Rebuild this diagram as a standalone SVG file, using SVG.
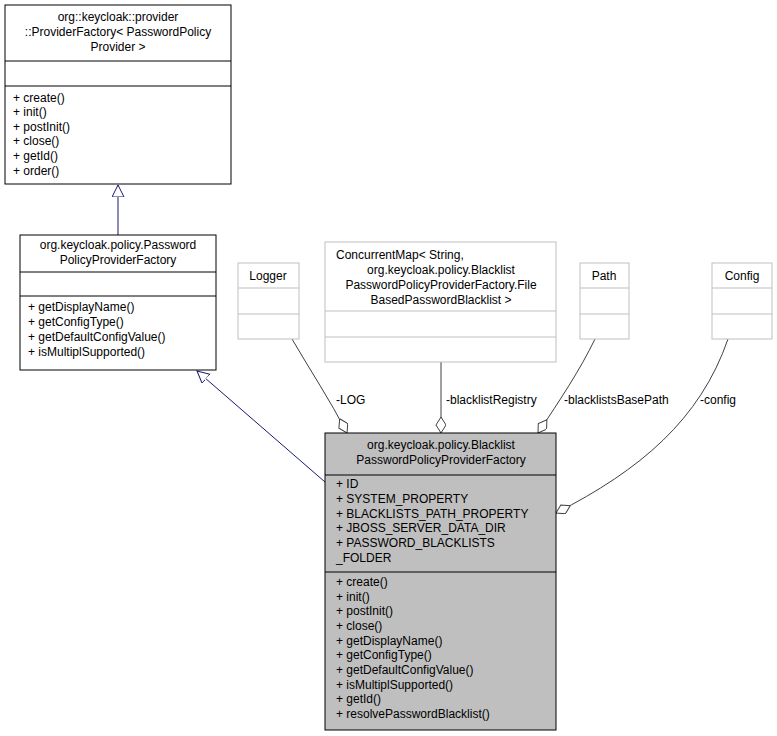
<svg xmlns="http://www.w3.org/2000/svg" width="777" height="736" viewBox="0 0 777 736">
<style>
text{font-family:"Liberation Sans",Arial,sans-serif;font-size:12px;fill:#000}
.c{text-anchor:middle}
.b{fill:#fff;stroke:#000;stroke-width:1}
.g{fill:#fff;stroke:#bfbfbf;stroke-width:1}
.m{fill:#bfbfbf;stroke:#000;stroke-width:1}
.inh{fill:none;stroke:#191970;stroke-width:1}
.agg{fill:none;stroke:#404040;stroke-width:1}
</style>
<defs>
<marker id="tri" markerWidth="14" markerHeight="14" refX="12" refY="6" orient="auto" markerUnits="userSpaceOnUse"><path d="M0,0 L12,6 L0,12 Z" fill="#fff" stroke="#191970"/></marker>
<marker id="dia" markerWidth="18" markerHeight="12" refX="16" refY="5" orient="auto" markerUnits="userSpaceOnUse"><path d="M0,5 L8,0 L16,5 L8,10 Z" fill="#fff" stroke="#404040"/></marker>
</defs>
<g id="connectors">
<path class="inh" d="M118,235 L118,185" marker-end="url(#tri)"/>
<path class="inh" d="M325,482 L197,371" marker-end="url(#tri)"/>
<path class="agg" d="M292,339 C310,370 330,400 347,433" marker-end="url(#dia)"/>
<text x="336" y="404">-LOG</text>
<path class="agg" d="M441,362 L441,433" marker-end="url(#dia)"/>
<text x="446" y="404">-blacklistRegistry</text>
<path class="agg" d="M595,339 C580,370 560,400 538,433" marker-end="url(#dia)"/>
<text x="564" y="404">-blacklistsBasePath</text>
<path class="agg" d="M728,339 C700,420 640,470 556,513" marker-end="url(#dia)"/>
<text x="700" y="404">-config</text>
</g>
<g id="ProviderFactory">
<rect class="b" x="5" y="5" width="226" height="179"/>
<line x1="5" y1="61" x2="231" y2="61" stroke="#000"/>
<line x1="5" y1="86" x2="231" y2="86" stroke="#000"/>
<text class="c" x="118" y="21">org::keycloak::provider</text>
<text class="c" x="118" y="36">::ProviderFactory&lt; PasswordPolicy</text>
<text class="c" x="118" y="51">Provider &gt;</text>
<text x="13" y="102">+ create()</text>
<text x="13" y="116">+ init()</text>
<text x="13" y="131">+ postInit()</text>
<text x="13" y="145">+ close()</text>
<text x="13" y="160">+ getId()</text>
<text x="13" y="175">+ order()</text>
</g>
<g id="PasswordPolicyProviderFactory">
<rect class="b" x="20" y="235" width="196" height="135"/>
<line x1="20" y1="272" x2="216" y2="272" stroke="#000"/>
<line x1="20" y1="296" x2="216" y2="296" stroke="#000"/>
<text class="c" x="118" y="249">org.keycloak.policy.Password</text>
<text class="c" x="118" y="264">PolicyProviderFactory</text>
<text x="28" y="311">+ getDisplayName()</text>
<text x="28" y="326">+ getConfigType()</text>
<text x="28" y="341">+ getDefaultConfigValue()</text>
<text x="28" y="356">+ isMultiplSupported()</text>
</g>
<g id="Logger">
<rect class="g" x="238" y="263" width="61" height="76"/>
<line x1="238" y1="288" x2="299" y2="288" stroke="#bfbfbf"/>
<line x1="238" y1="314" x2="299" y2="314" stroke="#bfbfbf"/>
<text class="c" x="268" y="280">Logger</text>
</g>
<g id="ConcurrentMap">
<rect class="g" x="325" y="242" width="231" height="120"/>
<line x1="325" y1="311" x2="556" y2="311" stroke="#bfbfbf"/>
<line x1="325" y1="337" x2="556" y2="337" stroke="#bfbfbf"/>
<text x="336" y="259">ConcurrentMap&lt; String,</text>
<text class="c" x="441" y="274">org.keycloak.policy.Blacklist</text>
<text class="c" x="441" y="289">PasswordPolicyProviderFactory.File</text>
<text class="c" x="441" y="304">BasedPasswordBlacklist &gt;</text>
</g>
<g id="Path">
<rect class="g" x="580" y="263" width="49" height="76"/>
<line x1="580" y1="288" x2="629" y2="288" stroke="#bfbfbf"/>
<line x1="580" y1="314" x2="629" y2="314" stroke="#bfbfbf"/>
<text class="c" x="604" y="280">Path</text>
</g>
<g id="Config">
<rect class="g" x="712" y="263" width="60" height="76"/>
<line x1="712" y1="288" x2="772" y2="288" stroke="#bfbfbf"/>
<line x1="712" y1="314" x2="772" y2="314" stroke="#bfbfbf"/>
<text class="c" x="742" y="280">Config</text>
</g>
<g id="BlacklistPasswordPolicyProviderFactory">
<rect class="m" x="325" y="433" width="231" height="297"/>
<line x1="325" y1="475" x2="556" y2="475" stroke="#000"/>
<line x1="325" y1="572" x2="556" y2="572" stroke="#000"/>
<text class="c" x="441" y="449">org.keycloak.policy.Blacklist</text>
<text class="c" x="441" y="464">PasswordPolicyProviderFactory</text>
<text x="336" y="488">+ ID</text>
<text x="336" y="503">+ SYSTEM_PROPERTY</text>
<text x="336" y="518">+ BLACKLISTS_PATH_PROPERTY</text>
<text x="336" y="532">+ JBOSS_SERVER_DATA_DIR</text>
<text x="336" y="547">+ PASSWORD_BLACKLISTS</text>
<text x="336" y="562">_FOLDER</text>
<text x="336" y="586">+ create()</text>
<text x="336" y="601">+ init()</text>
<text x="336" y="615">+ postInit()</text>
<text x="336" y="630">+ close()</text>
<text x="336" y="645">+ getDisplayName()</text>
<text x="336" y="659">+ getConfigType()</text>
<text x="336" y="674">+ getDefaultConfigValue()</text>
<text x="336" y="689">+ isMultiplSupported()</text>
<text x="336" y="703">+ getId()</text>
<text x="336" y="718">+ resolvePasswordBlacklist()</text>
</g>
</svg>
